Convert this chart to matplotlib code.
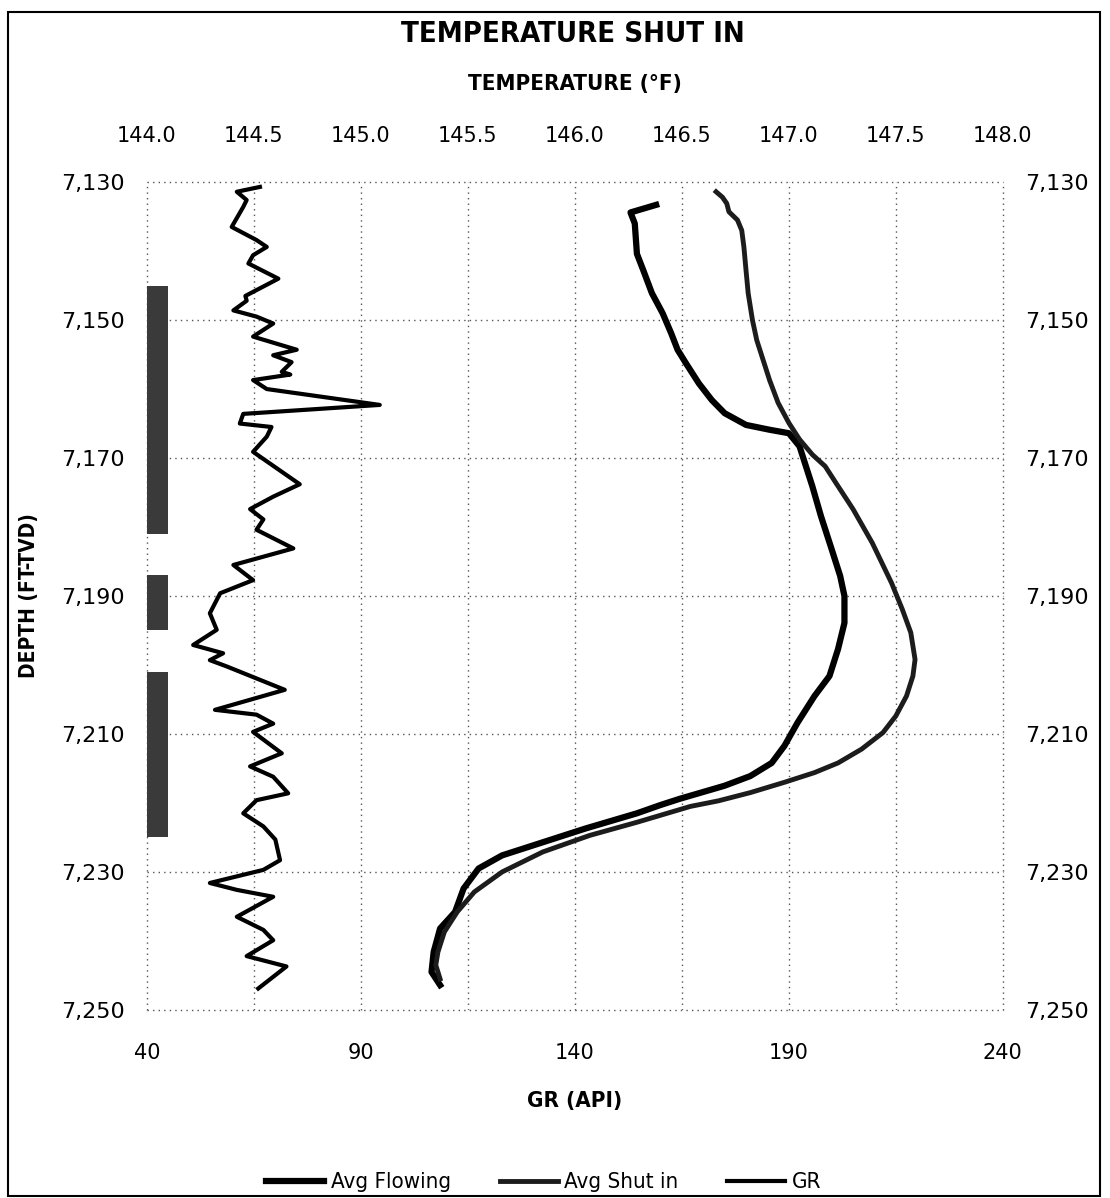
import matplotlib
matplotlib.use("Agg")
import matplotlib.pyplot as plt
from matplotlib.patches import Rectangle
from matplotlib.ticker import FuncFormatter

# Perforated intervals (ft)
perf_top = [7145, 7187, 7201]
perf_base = [7181, 7195, 7225]

# Gamma ray log
gr_depth = [7130.7, 7131.4, 7132.6, 7133.6, 7136.5, 7138.4, 7139.4, 7140.6, 7141.8, 7144.0,
            7146.5, 7147.2, 7148.6, 7149.5, 7150.5, 7152.4, 7154.3, 7155.1, 7156.1, 7157.5,
            7157.9, 7158.7, 7160.0, 7162.3, 7163.6, 7165.0, 7165.5, 7166.9, 7169.1, 7173.8,
            7175.6, 7177.4, 7178.9, 7180.4, 7183.1, 7185.5, 7187.7, 7189.6, 7192.5, 7194.9,
            7197.1, 7198.3, 7199.3, 7200.2, 7203.6, 7206.5, 7207.2, 7208.5, 7209.7, 7212.8,
            7214.7, 7216.2, 7218.6, 7219.6, 7221.5, 7223.4, 7225.3, 7228.3, 7229.7, 7231.6,
            7232.6, 7233.6, 7236.5, 7238.4, 7239.9, 7242.2, 7243.7, 7246.9]
gr_api = [66.4, 61.0, 63.3, 62.5, 59.8, 65.6, 68.0, 64.8, 63.7, 70.7,
          63.0, 63.3, 60.2, 65.6, 69.5, 64.8, 75.0, 69.5, 73.8, 71.5,
          73.5, 64.8, 68.0, 94.4, 62.5, 61.7, 69.1, 68.0, 64.8, 75.7,
          69.5, 64.1, 67.2, 65.6, 74.2, 60.2, 64.8, 57.1, 54.7, 56.3,
          50.8, 57.8, 54.7, 58.6, 72.2, 55.9, 65.6, 69.5, 64.8, 71.5,
          64.1, 69.5, 73.0, 65.6, 62.5, 67.2, 70.0, 71.1, 67.2, 54.7,
          61.0, 69.5, 61.0, 67.2, 69.5, 63.3, 72.6, 66.0]

# Average flowing temperature survey
flow_depth = [7133.3, 7134.4, 7136.0, 7140.4, 7142.8, 7146.1, 7149.0, 7151.9, 7154.3, 7156.3,
              7159.2, 7161.6, 7163.5, 7165.2, 7165.9, 7166.4, 7168.3, 7171.2, 7174.1, 7178.4,
              7183.2, 7187.1, 7190.0, 7193.9, 7197.7, 7201.6, 7204.5, 7208.4, 7211.7, 7214.2,
              7216.1, 7217.5, 7219.4, 7220.3, 7221.5, 7223.7, 7225.7, 7227.6, 7229.5, 7232.4,
              7235.8, 7238.2, 7241.6, 7244.5, 7246.4]
flow_temp = [146.38, 146.26, 146.28, 146.29, 146.32, 146.36, 146.41, 146.45, 146.48, 146.52,
             146.58, 146.64, 146.70, 146.80, 146.91, 147.00, 147.05, 147.08, 147.11, 147.15,
             147.20, 147.24, 147.26, 147.26, 147.23, 147.19, 147.12, 147.04, 146.98, 146.92,
             146.82, 146.70, 146.49, 146.40, 146.29, 146.05, 145.85, 145.66, 145.55, 145.48,
             145.44, 145.37, 145.34, 145.33, 145.37]

# Average shut-in temperature survey
shut_depth = [7131.4, 7132.2, 7133.1, 7134.3, 7135.5, 7137.0, 7139.4, 7142.8, 7146.1, 7150.0,
              7152.9, 7155.8, 7158.7, 7162.0, 7164.9, 7167.3, 7169.5, 7171.2, 7173.6, 7177.4,
              7182.3, 7188.1, 7191.9, 7195.3, 7199.2, 7201.6, 7204.5, 7207.4, 7209.8, 7212.2,
              7214.2, 7215.6, 7217.0, 7218.5, 7219.7, 7220.5, 7222.8, 7224.7, 7227.1, 7230.0,
              7232.9, 7235.8, 7238.7, 7241.6, 7243.5, 7245.5]
shut_temp = [146.66, 146.69, 146.71, 146.72, 146.76, 146.78, 146.79, 146.80, 146.81, 146.83,
             146.85, 146.88, 146.91, 146.95, 147.00, 147.05, 147.11, 147.17, 147.22, 147.30,
             147.39, 147.48, 147.53, 147.57, 147.59, 147.58, 147.55, 147.50, 147.44, 147.34,
             147.23, 147.12, 146.98, 146.82, 146.67, 146.54, 146.29, 146.07, 145.85, 145.66,
             145.53, 145.45, 145.39, 145.36, 145.35, 145.37]

depth_ticks = [7130, 7150, 7170, 7190, 7210, 7230, 7250]
gr_ticks = [40, 90, 140, 190, 240]
temp_ticks = [144.0, 144.5, 145.0, 145.5, 146.0, 146.5, 147.0, 147.5, 148.0]

cond = dict(family="DejaVu Sans", stretch="condensed", fontweight="bold")

fig = plt.figure(figsize=(11.10, 11.98), dpi=100)
ax = fig.add_axes([0.1324, 0.157, 0.771, 0.691])

# perforations and gamma ray on the bottom (API) axis
for top, base in zip(perf_top, perf_base):
    ax.barh((top + base) / 2, 5, left=40, height=base - top, color="#3a3a3a", zorder=2)
gr_line, = ax.plot(gr_api, gr_depth, color="black", lw=3, zorder=3, label="GR")

ax.set_xlim(40, 240)
ax.set_ylim(7250, 7130)
ax.set_xticks(gr_ticks)
ax.set_xticks(range(40, 241, 25), minor=True)
ax.set_yticks(depth_ticks)
ax.yaxis.set_major_formatter(FuncFormatter(lambda v, p: f"{v:,.0f}"))
ax.grid(True, which="both", axis="x", color="#555555", ls=(0, (1, 3)), lw=1)
ax.grid(True, which="major", axis="y", color="#555555", ls=(0, (1, 3)), lw=1)
for gl in ax.get_xgridlines() + ax.get_ygridlines():
    gl.set_clip_on(False)
ax.tick_params(axis="x", which="both", length=0, pad=24, labelsize=15)
ax.tick_params(axis="y", length=0, pad=16, labelsize=16, labelright=True)
for s in ax.spines.values():
    s.set_visible(False)
ax.set_xlabel("GR (API)", fontsize=16, labelpad=20, **cond)
ax.set_ylabel("DEPTH (FT-TVD)", fontsize=15, labelpad=16, **cond)

# temperature surveys on the top axis
axt = ax.twiny()
flow_line, = axt.plot(flow_temp, flow_depth, color="black", lw=4.5, zorder=4, label="Avg Flowing")
shut_line, = axt.plot(shut_temp, shut_depth, color="#1c1c1c", lw=3.5, zorder=4, label="Avg Shut in")
axt.set_xlim(144, 148)
axt.set_xticks(temp_ticks)
axt.xaxis.set_major_formatter(FuncFormatter(lambda v, p: f"{v:.1f}"))
axt.tick_params(axis="x", length=0, pad=26, labelsize=15)
for s in axt.spines.values():
    s.set_visible(False)
axt.set_xlabel("TEMPERATURE (°F)", fontsize=16, labelpad=26, **cond)

fig.text(0.516, 0.972, "TEMPERATURE SHUT IN", ha="center", va="center", fontsize=21, **cond)

fig.legend(handles=[flow_line, shut_line, gr_line], loc="center", ncol=3,
           bbox_to_anchor=(0.49, 0.013), frameon=False,
           prop=dict(family="DejaVu Sans", stretch="condensed", size=16),
           handlelength=2.6, columnspacing=2.2, handletextpad=0.3)

fig.patches.append(Rectangle((8 / 1110, 2 / 1198), 1092 / 1110, 1184 / 1198,
                             transform=fig.transFigure, fill=False, ec="black", lw=1.5))

fig.savefig("out.png", dpi=100)
